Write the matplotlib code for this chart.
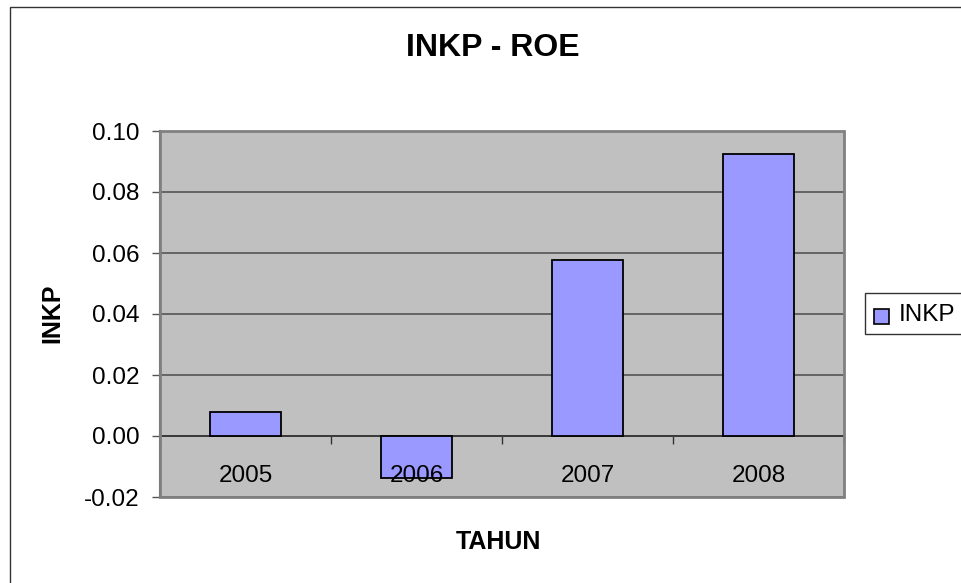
import matplotlib
matplotlib.use("Agg")
import matplotlib.pyplot as plt
from matplotlib.patches import Rectangle
import numpy as np

plt.rcParams['font.family'] = ['Liberation Sans', 'DejaVu Sans']

years = ["2005", "2006", "2007", "2008"]
roe = [0.0079, -0.0138, 0.0578, 0.0925]
series_name = "INKP"
title = "INKP - ROE"
xlabel = "TAHUN"
ylabel = "INKP"
yticks = [-0.02, 0.00, 0.02, 0.04, 0.06, 0.08, 0.10]

W, H = 961, 583
fig = plt.figure(figsize=(W / 100, H / 100), dpi=100)

# outer chart frame (extends beyond right/bottom edges)
fig.patches.append(Rectangle((9.5 / W, -0.05), 1.2, 1 - 7 / H + 0.05,
                             transform=fig.transFigure, fill=False,
                             edgecolor='#333333', linewidth=1.0))

left, right, top, bottom = 160, 844, 131, 497
ax = fig.add_axes([left / W, 1 - bottom / H, (right - left) / W, (bottom - top) / H])
ax.set_facecolor('#C0C0C0')

x = np.arange(len(years))
ax.bar(x, roe, width=0.41, color='#9999FF', edgecolor='black', linewidth=1.3,
       zorder=3, label=series_name)

ax.set_xlim(-0.5, len(years) - 0.5)
ax.set_ylim(-0.02, 0.10)
ax.set_yticks(yticks)
ax.set_yticklabels([f"{v:.2f}" for v in yticks])
ax.tick_params(axis='y', labelsize=17.5, length=6, width=1.0, color='#555555', pad=9)
ax.yaxis.grid(True, color='#555555', linewidth=1.2, zorder=1)
ax.set_axisbelow(True)

# category axis at zero: ticks at category boundaries, labels drawn on top of bars
ax.set_xticks(np.arange(len(years) + 1) - 0.5)
ax.set_xticklabels([])
ax.tick_params(axis='x', which='major', length=6, width=1.0, color='#333333', direction='out')
for xi, lab in zip(x, years):
    ax.annotate(lab, xy=(xi, 0), xytext=(0, -21), textcoords='offset points',
                ha='center', va='top', fontsize=17.5, zorder=10)

ax.spines['bottom'].set_position(('data', 0))
ax.spines['bottom'].set_color('#333333')
ax.spines['bottom'].set_linewidth(1.2)
ax.spines['left'].set_color('#555555')
ax.spines['left'].set_linewidth(1.5)
ax.spines['top'].set_visible(False)
ax.spines['right'].set_visible(False)

# plot area border
ax.add_patch(Rectangle((0, 0), 1, 1, transform=ax.transAxes, fill=False,
                       edgecolor='#808080', linewidth=2.0, zorder=5, clip_on=False))

fig.text(492.5 / W, 1 - 48 / H, title, fontsize=23, fontweight='bold',
         ha='center', va='center')
fig.text(498 / W, 1 - 542 / H, xlabel, fontsize=18, fontweight='bold',
         ha='center', va='center')
fig.text(52.5 / W, 1 - 313 / H, ylabel, fontsize=18, fontweight='bold',
         ha='center', va='center', rotation=90)

# legend box (clipped at right edge)
fig.patches.append(Rectangle((865 / W, 1 - 334 / H), 0.2, 41 / H,
                             transform=fig.transFigure, facecolor='white',
                             edgecolor='#333333', linewidth=1.0))
fig.patches.append(Rectangle((874 / W, 1 - 324 / H), 15 / W, 15 / H,
                             transform=fig.transFigure, facecolor='#9999FF',
                             edgecolor='black', linewidth=1.2))
fig.text(899 / W, 1 - 315 / H, series_name, fontsize=17.5, ha='left', va='center')

fig.savefig("out.png", dpi=100)
